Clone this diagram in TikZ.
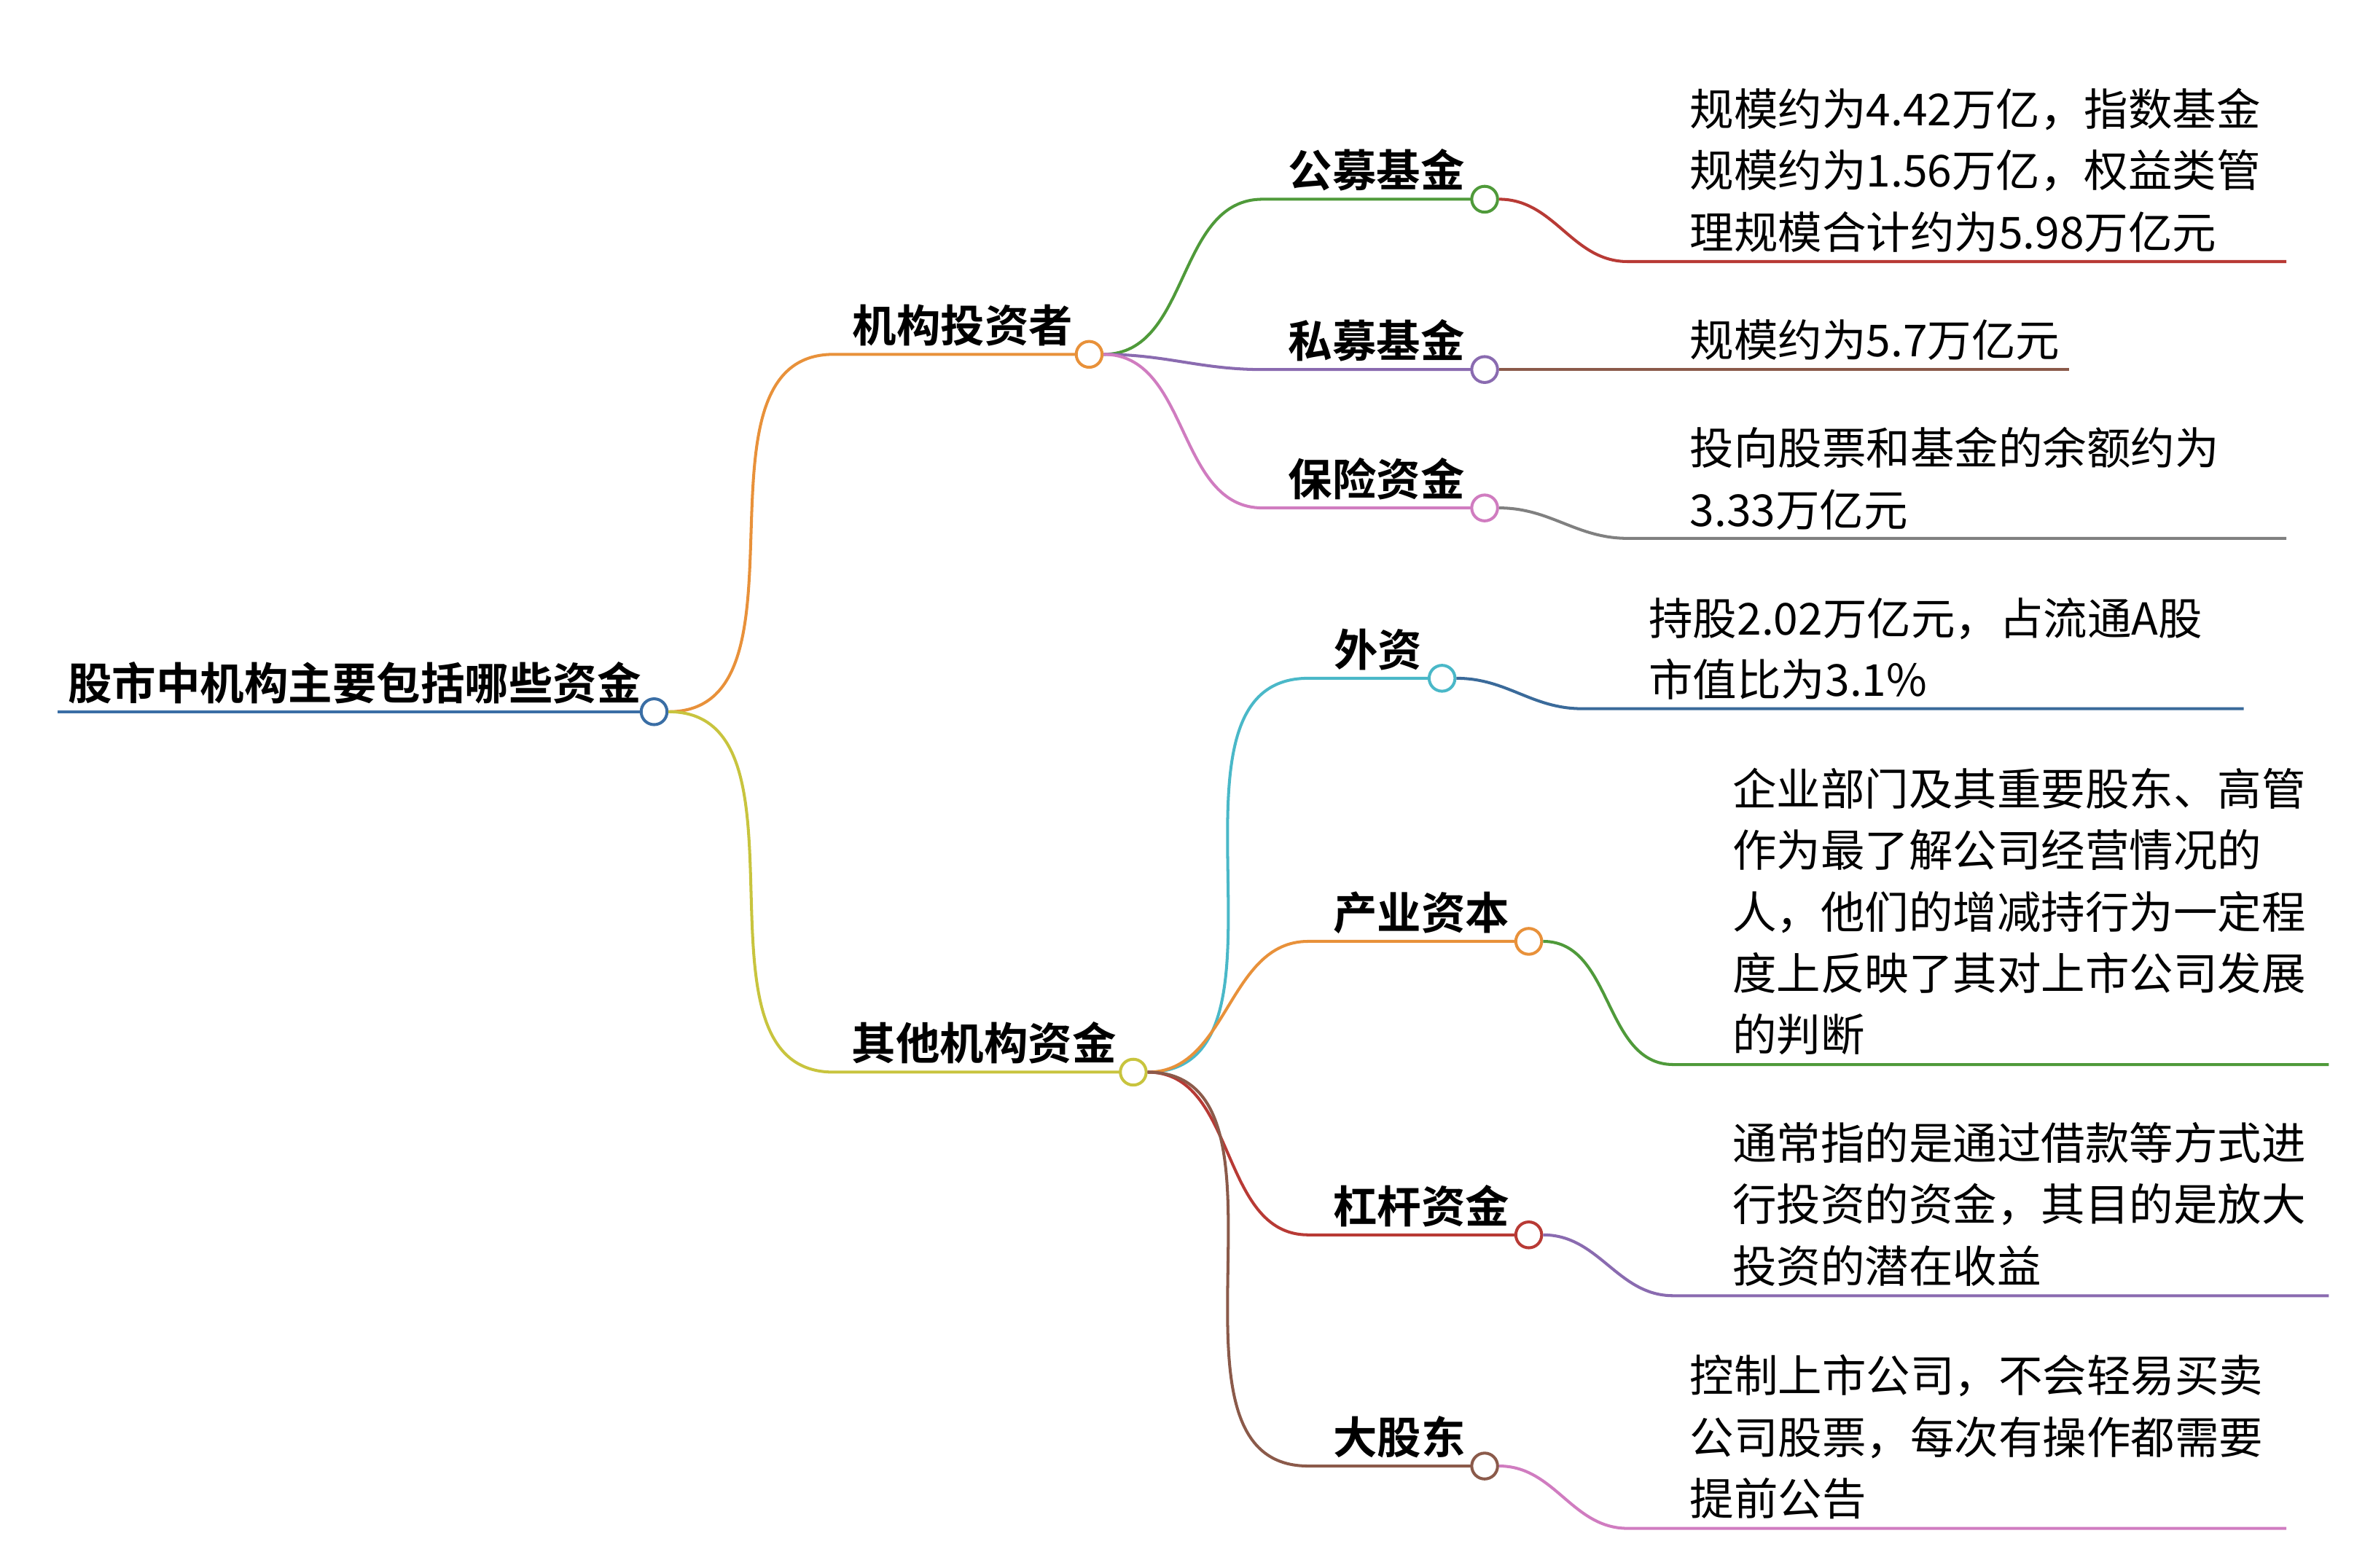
\documentclass[tikz,border=0pt]{standalone}
\usepackage{fontspec}
\setmainfont{Noto Sans CJK SC}[BoldFont={Noto Sans CJK SC Bold}]
\definecolor{cblue}{HTML}{3A6EA5}
\definecolor{corange}{HTML}{E8913A}
\definecolor{colive}{HTML}{C8C43E}
\definecolor{cgreen}{HTML}{4F9A3A}
\definecolor{cpurple}{HTML}{8A6BB0}
\definecolor{cpink}{HTML}{D07CC0}
\definecolor{cred}{HTML}{B83A35}
\definecolor{cbrown}{HTML}{8B5A4A}
\definecolor{cgray}{HTML}{808080}
\definecolor{ccyan}{HTML}{4AB8C8}
\definecolor{cdblue}{HTML}{3A6A9A}
\begin{document}
\begin{tikzpicture}[x=0.02cm,y=-0.02cm,line width=1.1pt,
    dot/.style={circle,draw,fill=white,inner sep=0pt,minimum size=0.34cm,line width=1.1pt},
    topic/.style={anchor=base,font=\fontsize{16.5}{23}\selectfont\bfseries,inner sep=0pt},
    leaf/.style={anchor=north west,align=left,font=\fontsize{16.5}{23}\selectfont,inner sep=0pt}]
  \useasboundingbox (0,0) rectangle (1560,1031);

  % root
  \coordinate (r0) at (38,468);
  \node[topic] (root) at (233,460) {股市中机构主要包括哪些资金};
  \node[dot,draw=cblue] (rc) at (430,468) {};
  \draw[cblue] (r0) -- (rc);

  % main branches
  \coordinate (a0) at (548,233);
  \node[topic] (a) at (633,225) {机构投资者};
  \coordinate (b0) at (548,705);
  \node[topic] (b) at (647,697) {其他机构资金};
  \draw[corange] (rc) to[out=0,in=180] (a0) -- (716,233) node[dot,draw=corange] (ac) {};
  \draw[colive] (rc) to[out=0,in=180] (b0) -- (745,705) node[dot,draw=colive] (bc) {};

  % children
  \foreach \name/\src/\col/\xs/\xe/\y/\lab in {
      c1/ac/cgreen/830/976/131/公募基金, c2/ac/cpurple/830/976/243/私募基金,
      c3/ac/cpink/830/976/334/保险资金, c4/bc/ccyan/860/948/446/外资,
      c5/bc/corange/860/1005/619/产业资本, c6/bc/cred/860/1005/812/杠杆资金,
      c7/bc/cbrown/860/976/964/大股东}{
    \coordinate (\name s) at (\xs,\y);
    \node[topic] (\name t) at ({(\xs+\xe)/2+2},{\y-8}) {\lab};
    \draw[\col] (\src) to[out=0,in=180] (\name s) -- (\xe,\y) node[dot,draw=\col] (\name) {};
  }

  % leaves
  \foreach \src/\col/\xs/\xe/\y in {c1/cred/1070/1503/172, c3/cgray/1070/1503/354,
      c4/cdblue/1040/1475/466, c5/cgreen/1100/1531/700, c6/cpurple/1100/1531/852,
      c7/cpink/1070/1503/1005}
    \draw[\col] (\src) to[out=0,in=180] (\xs,\y) -- (\xe,\y);
  \draw[cbrown] (c2) -- (1360,243);

  \node[leaf] (l1) at (1110,57) {规模约为4.42万亿，指数基金\\规模约为1.56万亿，权益类管\\理规模合计约为5.98万亿元};
  \node[leaf] (l2) at (1110,209) {规模约为5.7万亿元};
  \node[leaf] (l3) at (1110,280) {投向股票和基金的余额约为\\3.33万亿元};
  \node[leaf] (l4) at (1083,392) {持股2.02万亿元，占流通A股\\市值比为3.1\%};
  \node[leaf] (l5) at (1138,504) {企业部门及其重要股东、高管\\作为最了解公司经营情况的\\人，他们的增减持行为一定程\\度上反映了其对上市公司发展\\的判断};
  \node[leaf] (l6) at (1138,737) {通常指的是通过借款等方式进\\行投资的资金，其目的是放大\\投资的潜在收益};
  \node[leaf] (l7) at (1110,890) {控制上市公司，不会轻易买卖\\公司股票，每次有操作都需要\\提前公告};
\end{tikzpicture}
\end{document}
